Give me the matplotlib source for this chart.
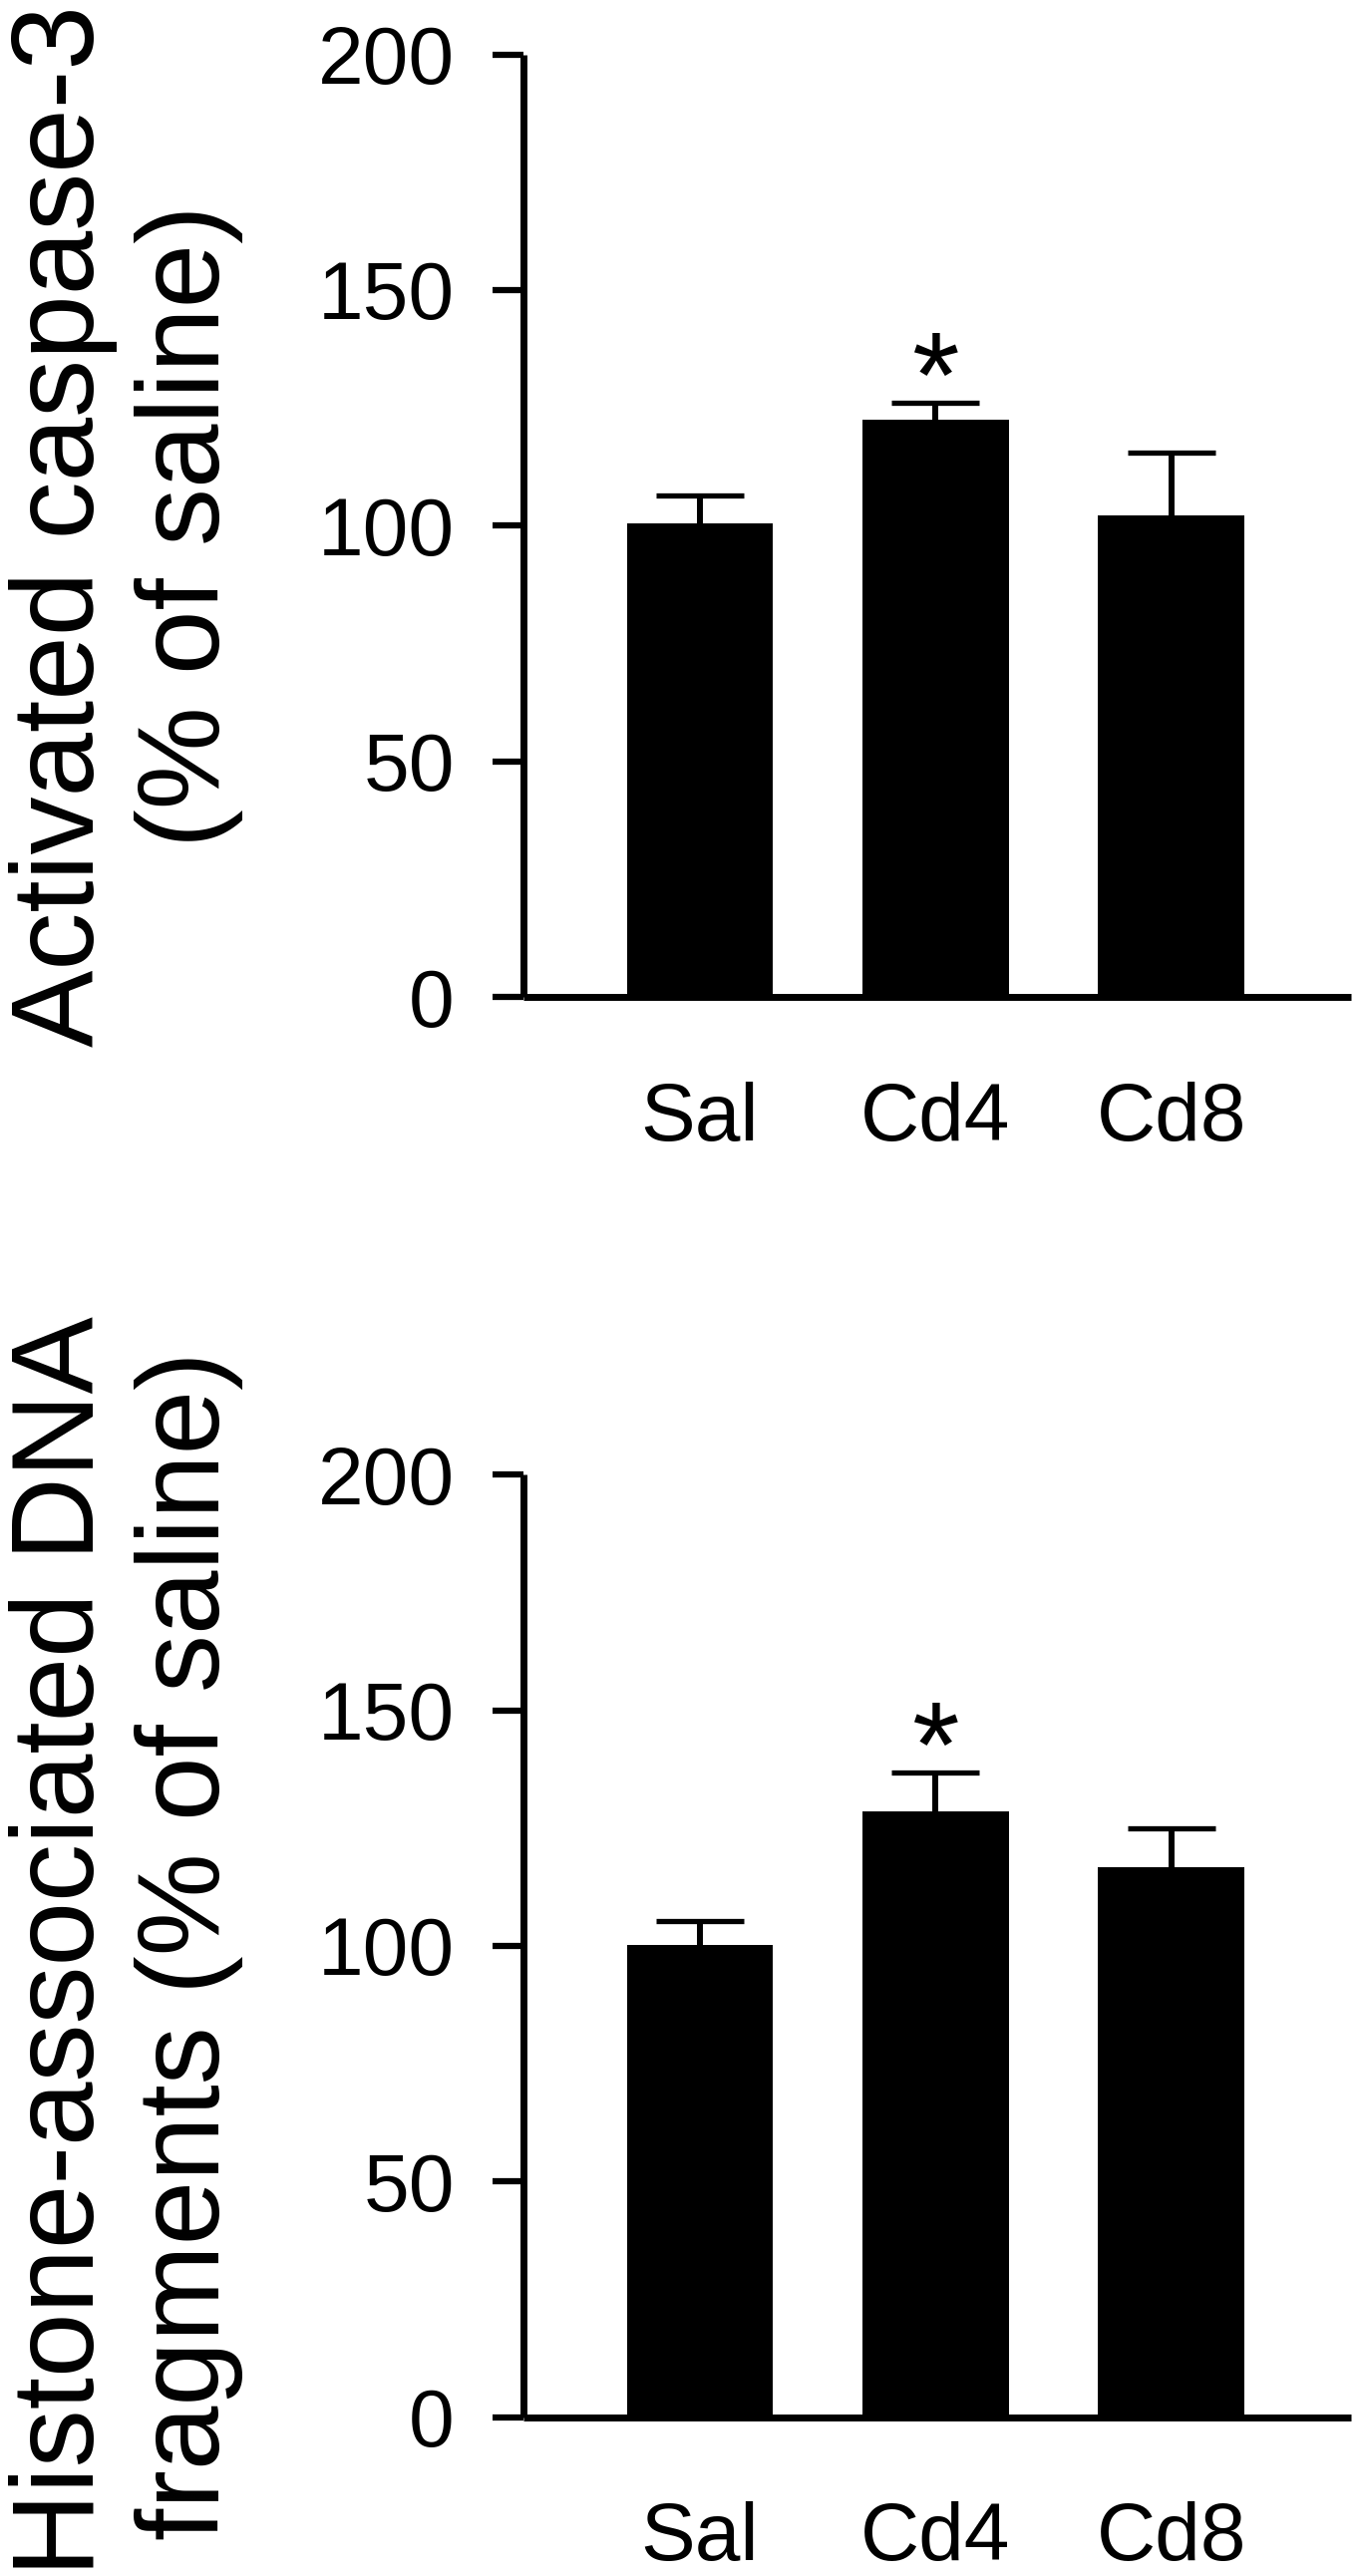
import numpy as np
import matplotlib
matplotlib.use('Agg')
from matplotlib import pyplot as plt

plt.rcParams['font.family'] = ['Liberation Sans', 'DejaVu Sans']

groups = ['Sal', 'Cd4', 'Cd8']
yticks = [0, 50, 100, 150, 200]

# activated caspase-3 (% of saline)
casp_mean = [100.5, 122.5, 102.2]
casp_sem = [6.0, 3.6, 13.4]
casp_star = [False, True, False]

# histone-associated DNA fragments (% of saline)
dna_mean = [100.3, 128.6, 116.8]
dna_sem = [4.9, 8.2, 8.1]
dna_star = [False, True, False]

panels = [
    (casp_mean, casp_sem, casp_star, 'Activated caspase-3\n(% of saline)', 0.6130),
    (dna_mean, dna_sem, dna_star, 'Histone-associated DNA\nfragments (% of saline)', 0.06165),
]

fig = plt.figure(figsize=(13.63, 25.84), dpi=100)
x = np.arange(len(groups))

for mean, sem, star, ylab, bottom in panels:
    ax = fig.add_axes([0.3855, bottom, 0.6086, 0.3659])
    ax.bar(x, mean, width=0.62, color='black', edgecolor='none', zorder=2)
    eb = ax.errorbar(x, mean, yerr=[np.zeros(len(mean)), sem], fmt='none',
                     ecolor='black', elinewidth=4.3, capsize=31.5, capthick=3.8, zorder=1)
    eb[1][0].set_visible(False)  # no lower caps
    for i in range(len(x)):
        if star[i]:
            # asterisk glyph sits high in its line box, so anchor on the baseline
            ax.annotate('*', xy=(x[i], mean[i] + sem[i]), xytext=(0, -10),
                        textcoords='offset points', ha='center', va='baseline',
                        fontsize=88, color='black')
    ax.set_xlim(-0.747, 2.763)
    ax.set_ylim(0, 200)
    ax.set_yticks(yticks)
    ax.set_xticks(x)
    ax.set_xticklabels(groups)
    for s in ['top', 'right']:
        ax.spines[s].set_visible(False)
    for s in ['left', 'bottom']:
        ax.spines[s].set_linewidth(5.0)
        ax.spines[s].set_capstyle('butt')
    ax.tick_params(axis='y', length=22, width=4.5, labelsize=59, pad=28, direction='out')
    ax.tick_params(axis='x', length=0, labelsize=59, pad=61)
    ax.set_ylabel(ylab, fontsize=83.5, linespacing=1.2)
    ax.yaxis.set_label_coords(-0.339, 0.5)

fig.savefig('out.png', dpi=100)
